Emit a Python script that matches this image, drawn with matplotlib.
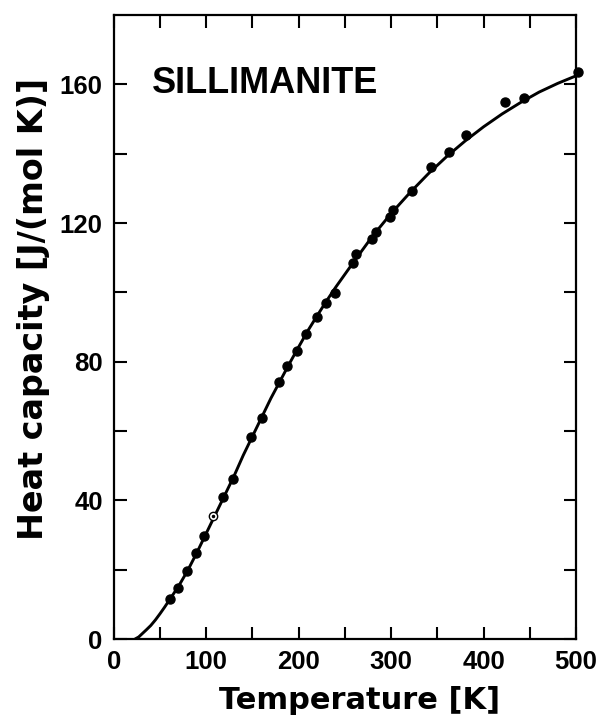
import matplotlib
matplotlib.use("Agg")
import matplotlib.pyplot as plt

plt.rcParams['font.family'] = ['Liberation Sans', 'DejaVu Sans']
plt.rcParams['font.weight'] = 'bold'

# measured points (filled)
temp_pts = [60.6, 69, 79, 88.7, 97.4, 118, 129, 148, 160, 178.6, 187, 198, 207.8,
            219.7, 229.4, 239, 259, 262, 279, 283.5, 299, 302, 322.5, 343, 362.6,
            381, 423, 444, 502]
cp_pts = [11.6, 14.7, 19.6, 24.8, 29.7, 41, 46.2, 58.3, 63.8, 74.2, 78.8, 83.2, 88.1,
          93, 97, 99.9, 108.6, 111.2, 115.5, 117.5, 121.9, 123.8, 129.4, 136.3, 140.6,
          145.3, 154.8, 156.2, 163.5]

# open symbol
temp_open = [107]
cp_open = [35.5]

# fitted curve
temp_fit = [23, 27, 31, 35, 40, 45, 50, 55, 60, 70, 80, 90, 100, 110, 120, 130, 140,
            150, 160, 170, 180, 190, 200, 210, 220, 230, 240, 260, 280, 300, 320, 340,
            360, 380, 400, 420, 440, 460, 480, 500]
cp_fit = [0, 0.6, 1.6, 2.6, 3.9, 5.5, 7.3, 9.2, 11.2, 15.2, 19.8, 25, 30.5, 36, 41.5,
          47, 53, 58.5, 64, 69.5, 74.5, 79.5, 84.3, 89, 93.3, 97.5, 101.5, 109, 116.3,
          122.8, 128.7, 134.2, 139.2, 143.7, 147.8, 151.5, 154.8, 157.8, 160.3, 162.5]

x_ticks = [0, 50, 100, 150, 200, 250, 300, 350, 400, 450, 500]
x_labels = ['0', '', '100', '', '200', '', '300', '', '400', '', '500']
y_ticks = [0, 20, 40, 60, 80, 100, 120, 140, 160]
y_labels = ['0', '', '40', '', '80', '', '120', '', '160']

fig = plt.figure(figsize=(6.02, 7.21), dpi=100)
ax = fig.add_axes([0.189, 0.1137, 0.768, 0.8653])

ax.plot(temp_fit, cp_fit, color='black', linewidth=2.1, solid_capstyle='round',
        solid_joinstyle='round')
ax.plot(temp_pts, cp_pts, 'o', color='black', markersize=6.5, clip_on=False)
ax.plot(temp_open, cp_open, 'o', markerfacecolor='white', markeredgecolor='black',
        markeredgewidth=1.0, markersize=6)
ax.plot(temp_open, cp_open, 'o', color='black', markersize=1.5)

ax.set_xlim(0, 500)
ax.set_ylim(0, 180)
ax.set_xticks(x_ticks)
ax.set_xticklabels(x_labels)
ax.set_yticks(y_ticks)
ax.set_yticklabels(y_labels)

ax.tick_params(direction='in', length=9, width=1.5, top=True, right=True,
               labelsize=18.5)
ax.tick_params(axis='y', pad=8)
ax.tick_params(axis='x', pad=8)
for lbl in ax.get_xticklabels() + ax.get_yticklabels():
    lbl.set_fontweight('bold')
for sp in ax.spines.values():
    sp.set_linewidth(1.6)

# axis titles in a wider face
ax.set_xlabel('Temperature [K]', fontsize=22, fontweight='bold', family='DejaVu Sans')
ax.set_ylabel('Heat capacity [J/(mol K)]', fontsize=24, fontweight='bold',
              family='DejaVu Sans')
ax.xaxis.set_label_coords(0.532, -0.075)
ax.yaxis.set_label_coords(-0.139, 0.529)

ax.text(0.082, 0.875, 'SILLIMANITE', transform=ax.transAxes, fontsize=26,
        fontweight='bold', va='baseline', ha='left')

fig.savefig('out.png', dpi=100, facecolor='white')
